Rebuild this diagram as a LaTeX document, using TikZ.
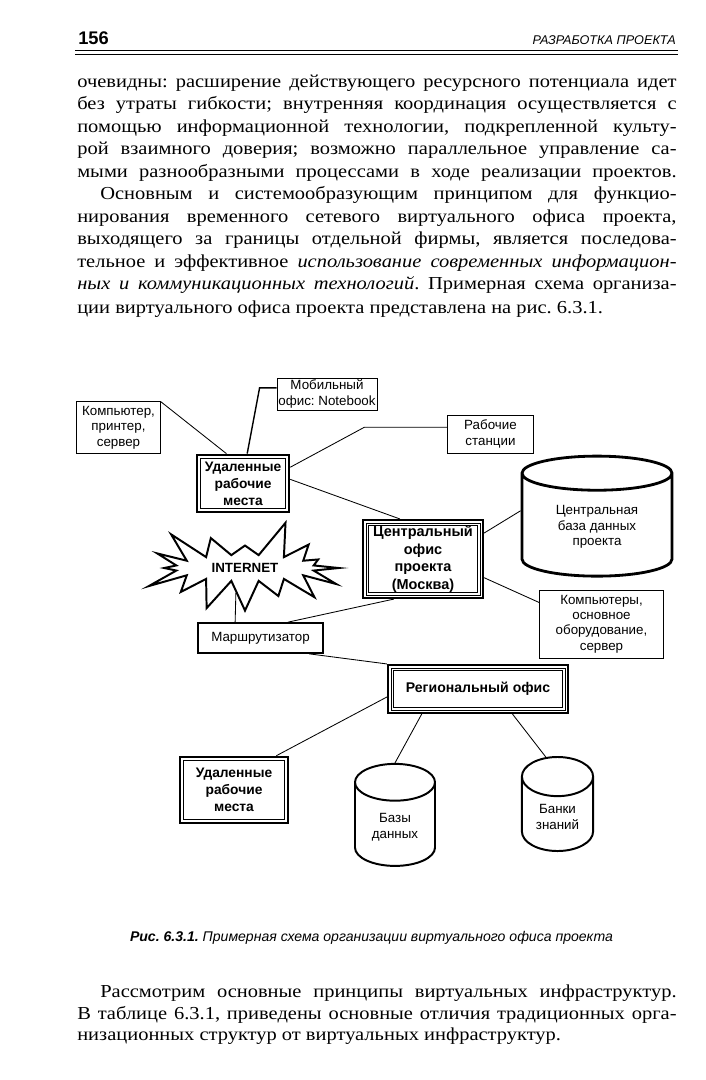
\documentclass[tikz,border=0pt]{standalone}
\usepackage{fontspec}
\setmainfont{Liberation Serif}[FakeStretch=1.12]
\setsansfont{Liberation Sans}
\usepackage{tikz}
\usetikzlibrary{shapes.geometric,shapes.symbols,positioning,calc}
\frenchspacing

\newcommand{\jline}[1]{\makebox[14.98cm][s]{#1}}

\tikzset{
  txtline/.style={anchor=base west, inner sep=0pt, font=\fontsize{13}{16}\selectfont},
  plainbox/.style={draw, line width=0.6pt, align=center, inner sep=1pt, font=\sffamily\fontsize{9.5}{11}\selectfont},
  wpbox/.style={draw, line width=1.8pt, align=center, inner sep=1pt, font=\sffamily\bfseries\fontsize{9.8}{12}\selectfont,
    path picture={\draw[line width=0.5pt] ([shift={(2.4pt,2.4pt)}]path picture bounding box.south west) rectangle ([shift={(-2.4pt,-2.4pt)}]path picture bounding box.north east);}},
  ofbox/.style={draw, line width=1.5pt, align=center, inner sep=1pt, font=\sffamily\bfseries\fontsize{10.3}{12.5}\selectfont,
    path picture={\draw[line width=0.5pt] ([shift={(2.2pt,2.2pt)}]path picture bounding box.south west) rectangle ([shift={(-2.2pt,-2.2pt)}]path picture bounding box.north east);
                  \draw[line width=0.5pt] ([shift={(3.8pt,3.8pt)}]path picture bounding box.south west) rectangle ([shift={(-3.8pt,-3.8pt)}]path picture bounding box.north east);}},
  dbcyl/.style={cylinder, shape border rotate=90, draw, line width=1.4pt, align=center, inner sep=1pt, font=\sffamily\fontsize{9.5}{11}\selectfont},
  link/.style={line width=0.6pt}
}

\begin{document}
\begin{tikzpicture}[x=0.025cm, y=-0.025cm, >=stealth]
    \useasboundingbox (0,0) rectangle (705,1080);

    % running head
    \node[anchor=base west, inner sep=0pt, font=\sffamily\bfseries\fontsize{13}{15}\selectfont] (pnum) at (78,44) {156};
    \node[anchor=base east, inner sep=0pt, font=\sffamily\itshape\fontsize{9}{11}\selectfont] (head) at (676,44) {РАЗРАБОТКА ПРОЕКТА};
    \draw[line width=0.5pt] (75,50) -- (678,50);
    \draw[line width=0.7pt] (75,54) -- (678,54);

    % text above the figure
    \foreach \t [count=\i from 0] in {
        {очевидны: расширение действующего ресурсного потенциала идет},
        {без утраты гибкости; внутренняя координация осуществляется с},
        {помощью информационной технологии, подкрепленной культу-},
        {рой взаимного доверия; возможно параллельное управление са-},
        {мыми разнообразными процессами в ходе реализации проектов.},
        {\hspace*{0.575cm}Основным и системообразующим принципом для функцио-},
        {нирования временного сетевого виртуального офиса проекта,},
        {выходящего за границы отдельной фирмы, является последова-},
        {тельное и эффективное \textit{использование современных информацион-}},
        {\textit{ных и коммуникационных технологий}. Примерная схема организа-}}
        \node[txtline] (line\i) at (77, 87+22.5*\i) {\jline{\t}};
    \node[txtline] (line10) at (77, 313) {ции виртуального офиса проекта представлена на рис. 6.3.1.};

    % Upper part: remote workplaces
    \node[plainbox, minimum width=2.43cm, minimum height=0.8cm] (mob) at (327,394) {Мобильный\\офис: Notebook};
    \node[plainbox, minimum width=2.08cm, minimum height=1.28cm] (comp) at (118.5,427.5) {Компьютер,\\принтер,\\сервер};
    \node[wpbox, minimum width=2.3cm, minimum height=1.43cm] (rem1) at (243,483.5) {Удаленные\\рабочие\\места};
    \node[plainbox, minimum width=2.13cm, minimum height=0.95cm] (ws) at (490.5,434) {Рабочие\\станции};

    % Central office
    \node[ofbox, minimum width=3.0cm, minimum height=1.95cm] (co) at (423,559) {Центральный\\офис\\проекта\\(Москва)};
    \node[dbcyl, line width=2pt, aspect=0.4, minimum width=3.75cm, minimum height=3.0cm] (cdb) at (597,527) {Центральная\\база данных\\проекта};
    \node[plainbox, minimum width=3.08cm, minimum height=1.7cm] (cmp2) at (601.5,624) {Компьютеры,\\основное\\оборудование,\\сервер};

    % Internet and router
    \node[starburst, starburst points=16, starburst point height=0.9cm, random starburst=23, draw, line width=1.4pt,
          minimum width=5.3cm, minimum height=2.45cm, font=\sffamily\bfseries\fontsize{9.5}{11}\selectfont] (inet) at (245,568) {INTERNET};
    \node[plainbox, line width=1.2pt, minimum width=3.13cm, minimum height=0.75cm] (rtr) at (260.5,638) {Маршрутизатор};

    % Regional office
    \node[ofbox, font=\sffamily\bfseries\fontsize{10}{12}\selectfont, minimum width=4.5cm, minimum height=1.2cm] (reg) at (478,689) {Региональный офис};
    \node[wpbox, minimum width=2.7cm, minimum height=1.65cm] (rem2) at (234,790) {Удаленные\\рабочие\\места};
    \node[dbcyl, aspect=0.75, minimum width=2.0cm, minimum height=2.55cm] (db) at (395,827) {Базы\\данных};
    \node[dbcyl, aspect=0.85, minimum width=1.78cm, minimum height=2.35cm] (kb) at (557.5,817) {Банки\\знаний};

    % Connections
    \draw[link] (comp.north east) -- (rem1.119);
    \draw[link, line width=1pt] (mob.173) -- ++(-17,0) -- (rem1.82);
    \draw[link] (rem1.19) -- ($(ws.171)+(-83,0)$) -- (ws.171);
    \draw[link] (rem1.5) -- (co.120);
    \draw[link] (co.23) -- (cdb.168);
    \draw[link] (co.-17) -- (cmp2.161);
    \draw[link] (inet.250) -- (rtr.148);
    \draw[link] (rtr.30) -- (co.234);
    \draw[link] (rtr.-18) -- (reg.north west);
    \draw[link] (reg.185) -- (rem2.39);
    \draw[link] (reg.204) -- (db.north);
    \draw[link] (reg.-36) -- (kb.101);

    % caption and text below
    \node[anchor=base, inner sep=0pt, font=\sffamily\itshape\fontsize{10}{12}\selectfont] (cap) at (371.5,941) {\textbf{Рис. 6.3.1.} Примерная схема организации виртуального офиса проекта};
    \node[txtline] (low0) at (77,997) {\jline{\hspace*{0.575cm}Рассмотрим основные принципы виртуальных инфраструктур.}};
    \node[txtline] (low1) at (77,1019) {\jline{В таблице 6.3.1, приведены основные отличия традиционных орга-}};
    \node[txtline] (low2) at (77,1040) {низационных структур от виртуальных инфраструктур.};
\end{tikzpicture}
\end{document}
